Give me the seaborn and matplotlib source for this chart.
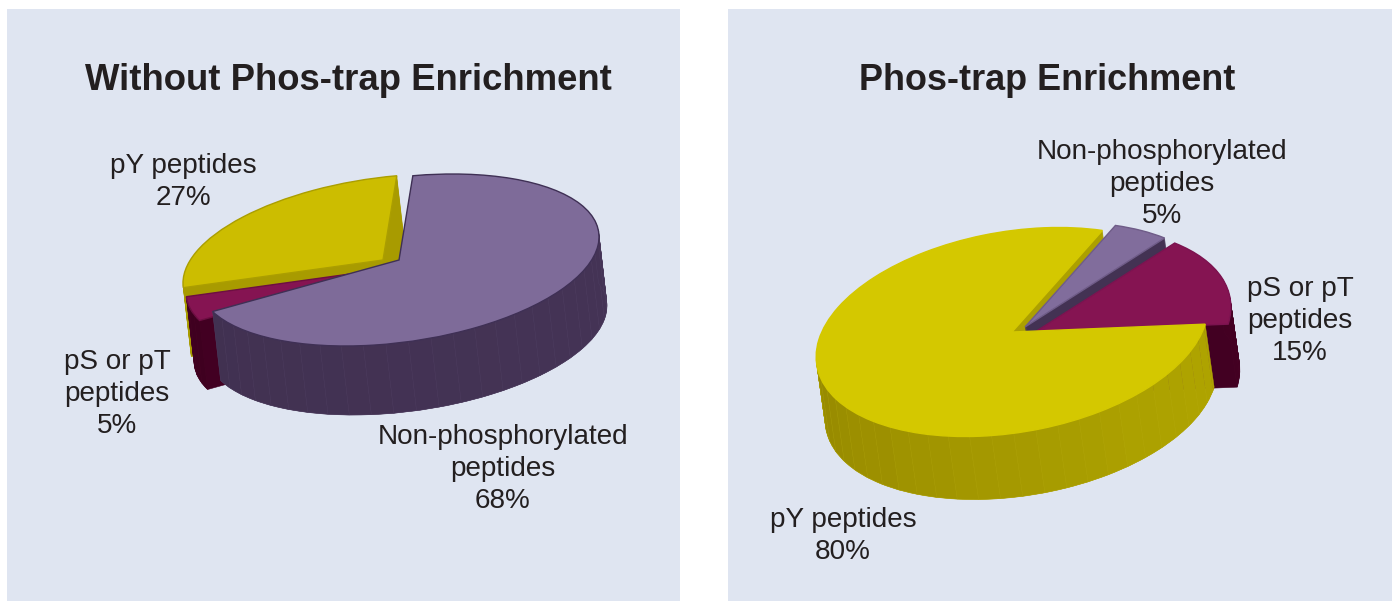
import numpy as np
import matplotlib
matplotlib.use('Agg')
import matplotlib.pyplot as plt
from matplotlib.transforms import Affine2D
import seaborn as sns

# slice values, in pie (counter-clockwise) order
left_labels = ['Non-phosphorylated\npeptides', 'pY peptides', 'pS or pT\npeptides']
left_values = [68, 27, 5]
right_labels = ['pY peptides', 'pS or pT\npeptides', 'Non-phosphorylated\npeptides']
right_values = [80, 15, 5]

W, H = 1392, 601
BG = '#dfe5f1'
INK = '#231f20'

sns.set_theme(style='white')
plt.rcParams['font.family'] = ['Liberation Sans', 'DejaVu Sans']

fig = plt.figure(figsize=(W / 100, H / 100), dpi=100, facecolor='white')


def panel(x0, x1, y0, y1):
    ax = fig.add_axes([x0 / W, (H - y1) / H, (x1 - x0) / W, (y1 - y0) / H])
    return ax, (x0, x1), (H - y1, H - y0)


def pie3d(ax, values, start, center, size, tilt, shifts, extrude, tops, edges, walls, shade, order, top_order):
    cx, cy = center
    A, B = size
    n_layers = 64
    for k in range(n_layers, 0, -1):
        wedges, _ = ax.pie(values, startangle=start, colors=walls, radius=1)
        for i, w in enumerate(wedges):
            f = k / n_layers
            aff = Affine2D().scale(A, B).rotate_deg(tilt).translate(
                cx + shifts[i][0] + extrude[0] * f, cy - shifts[i][1] - extrude[1] * f)
            w.set_transform(aff + ax.transData)
            w.set_edgecolor(walls[i])
            w.set_linewidth(0.4)
            w.set_zorder(2 + order[i] * 0.1)
    wedges, _ = ax.pie(values, startangle=start, colors=tops, radius=1,
                       wedgeprops={'linewidth': 1.0})
    for i, w in enumerate(wedges):
        aff = Affine2D().scale(A, B).rotate_deg(tilt).translate(cx + shifts[i][0], cy - shifts[i][1])
        w.set_transform(aff + ax.transData)
        w.set_edgecolor(edges[i])
        w.set_zorder(3 + top_order[i] * 0.1 + 0.05)
        # outer wall, drawn in strips so the faint seams show
        t = np.arange(w.theta1, w.theta2 + 0.01, 6.5)
        t = np.append(t, w.theta2) if t[-1] < w.theta2 else t
        for a, b in zip(t[:-1], t[1:]):
            mid = np.radians((a + b) / 2)
            if np.sin(mid - np.radians(tilt)) > 0.15:
                continue
            rim = aff.transform(np.c_[np.cos(np.radians([a, b])), np.sin(np.radians([a, b]))])
            low = rim + [extrude[0], -extrude[1]]
            pts = np.vstack([rim, low[::-1]])
            g = 0.5 + 0.5 * np.cos(mid - np.radians(340))
            col = sns.blend_palette([shade[i][0], shade[i][1]], 21)[int(round(g * 20))]
            seam = sns.blend_palette([col, shade[i][2]], 5)[1]
            ax.fill(pts[:, 0], pts[:, 1], facecolor=col, edgecolor=seam, linewidth=0.3,
                    zorder=3 + top_order[i] * 0.1)


def finish(ax, xlim, ylim):
    ax.set_aspect('auto')
    ax.set_xlim(xlim)
    ax.set_ylim(ylim)
    ax.set_frame_on(True)
    ax.set_facecolor(BG)
    ax.set_xticks([])
    ax.set_yticks([])
    sns.despine(ax=ax, left=True, bottom=True)


def note(ax, x, y, s):
    ax.text(x, H - y, s, ha='center', va='center', fontsize=20.1, color=INK,
            linespacing=1.3, zorder=10)


# left panel
ax, xl, yl = panel(7, 680, 9, 601)
pie3d(ax, left_values, 198, (399, H - 260), (201.6, 82.2), 7.9,
      [(0, 0), (-16, 0), (-13, 9)], (8, 69),
      ['#7e6b99', '#ccbd00', '#851452'],
      ['#3f3055', '#ab9e00', '#6d0f42'],
      ['#443355', '#a89b00', '#420022'],
      [('#413151', '#443355', '#6a5a80'), ('#b9ab00', '#b9ab00', '#c4b600'), ('#3f0020', '#430022', '#55102f')],
      [2, 0, 1], [2, 0, 1])
finish(ax, xl, yl)
ax.text(348, H - 80, 'Without Phos-trap Enrichment', ha='center', va='center',
        fontsize=26.3, fontweight='bold', color=INK)
note(ax, 183, 182, left_labels[1] + '\n' + str(left_values[1]) + '%')
note(ax, 117, 394, left_labels[2] + '\n' + str(left_values[2]) + '%')
note(ax, 503, 469, left_labels[0] + '\n' + str(left_values[0]) + '%')

# right panel
ax, xl, yl = panel(728, 1392, 9, 601)
pie3d(ax, right_values, 57.5, (1012, H - 332), (198, 100.4), 9.8,
      [(0, 0), (23, 0), (13, -5)], (9, 63),
      ['#d4c800', '#851452', '#816d9c'],
      ['#d4c800', '#7c1350', '#6f5c88'],
      ['#aca000', '#420022', '#433253'],
      [('#978a00', '#aea300', '#c4b920'), ('#3f0020', '#430022', '#55102f'), ('#433253', '#453556', '#54446a')],
      [0, 2, 1], [3, 2, 1])
finish(ax, xl, yl)
ax.text(1047, H - 80, 'Phos-trap Enrichment', ha='center', va='center',
        fontsize=25.9, fontweight='bold', color=INK)
note(ax, 1162, 184, right_labels[2] + '\n' + str(right_values[2]) + '%')
note(ax, 1300, 321, right_labels[1] + '\n' + str(right_values[1]) + '%')
note(ax, 843, 536, right_labels[0] + '\n' + str(right_values[0]) + '%')

fig.savefig('out.png', dpi=100)
plt.close(fig)
